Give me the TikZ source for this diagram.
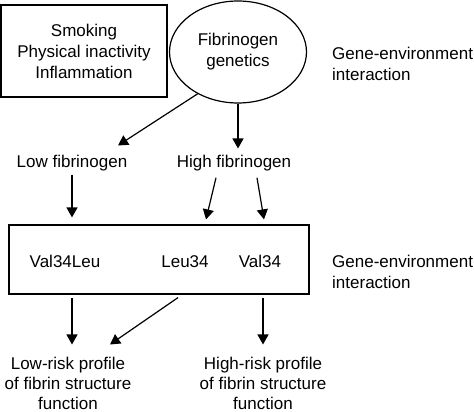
\documentclass[tikz,border=0pt]{standalone}
\usepackage{fontspec}
\setmainfont{Liberation Sans}
\usetikzlibrary{shapes.geometric,arrows.meta}

\begin{document}
\begin{tikzpicture}[x=1pt,y=-1pt,
  every node/.style={font=\fontsize{17}{21}\selectfont},
  box/.style={draw,line width=1.2pt,inner sep=0pt},
  lbl/.style={anchor=base,inner sep=0pt,align=center},
  arr/.style={-{Triangle[length=10pt,width=11pt]},line width=1.2pt}]
\useasboundingbox (0,0) rectangle (474,412);

\node[box,minimum width=166pt,minimum height=92pt,align=center] (risk) at (84,51) {Smoking\\Physical inactivity\\Inflammation};
\node[box,ellipse,minimum width=137pt,minimum height=102pt,align=center] (gen) at (238,52) {Fibrinogen\\genetics};
\node[lbl,anchor=base west,align=left] (gei1) at (332,81) {Gene-environment\\interaction};

\node[lbl] (low) at (72,167) {Low fibrinogen};
\node[lbl] (high) at (234,167) {High fibrinogen};

\node[box,minimum width=300pt,minimum height=69pt] (geno) at (159,259.5) {};
\node[lbl] (vl) at (65,267) {Val34Leu};
\node[lbl] (leu) at (185,267) {Leu34};
\node[lbl] (val) at (260,267) {Val34};
\node[lbl,anchor=base west,align=left] (gei2) at (332,288) {Gene-environment\\interaction};

\node[lbl,font=\fontsize{17}{20}\selectfont] (lowrisk) at (68,409) {Low-risk profile\\of fibrin structure\\function};
\node[lbl,font=\fontsize{17}{20}\selectfont] (highrisk) at (263,409) {High-risk profile\\of fibrin structure\\function};

% genetics to fibrinogen level
\draw[arr] (gen.226) -- ([xshift=46pt,yshift=9pt]low.north);
\draw[arr] (gen.south) -- ([yshift=6pt]high.north -| gen.south);

% fibrinogen level to genotypes
\draw[arr] ([yshift=-4pt]low.south) -- ([yshift=7pt]low.south |- geno.north);
\draw[arr] ([xshift=-18pt,yshift=-7pt]high.south) -- ([xshift=-28pt,yshift=5pt]high.south |- geno.north);
\draw[arr] ([xshift=23pt,yshift=-7pt]high.south) -- ([xshift=30pt,yshift=5pt]high.south |- geno.north);

% genotypes to risk profile
\draw[arr] ([yshift=-3pt]low.south |- geno.south) -- ([yshift=12pt]low.south |- lowrisk.north);
\draw[arr] ([xshift=-7pt,yshift=-3pt]leu.south |- geno.south) -- ([xshift=42pt,yshift=12pt]lowrisk.north);
\draw[arr] ([yshift=-3pt]highrisk.north |- geno.south) -- ([yshift=12pt]highrisk.north);
\end{tikzpicture}
\end{document}
